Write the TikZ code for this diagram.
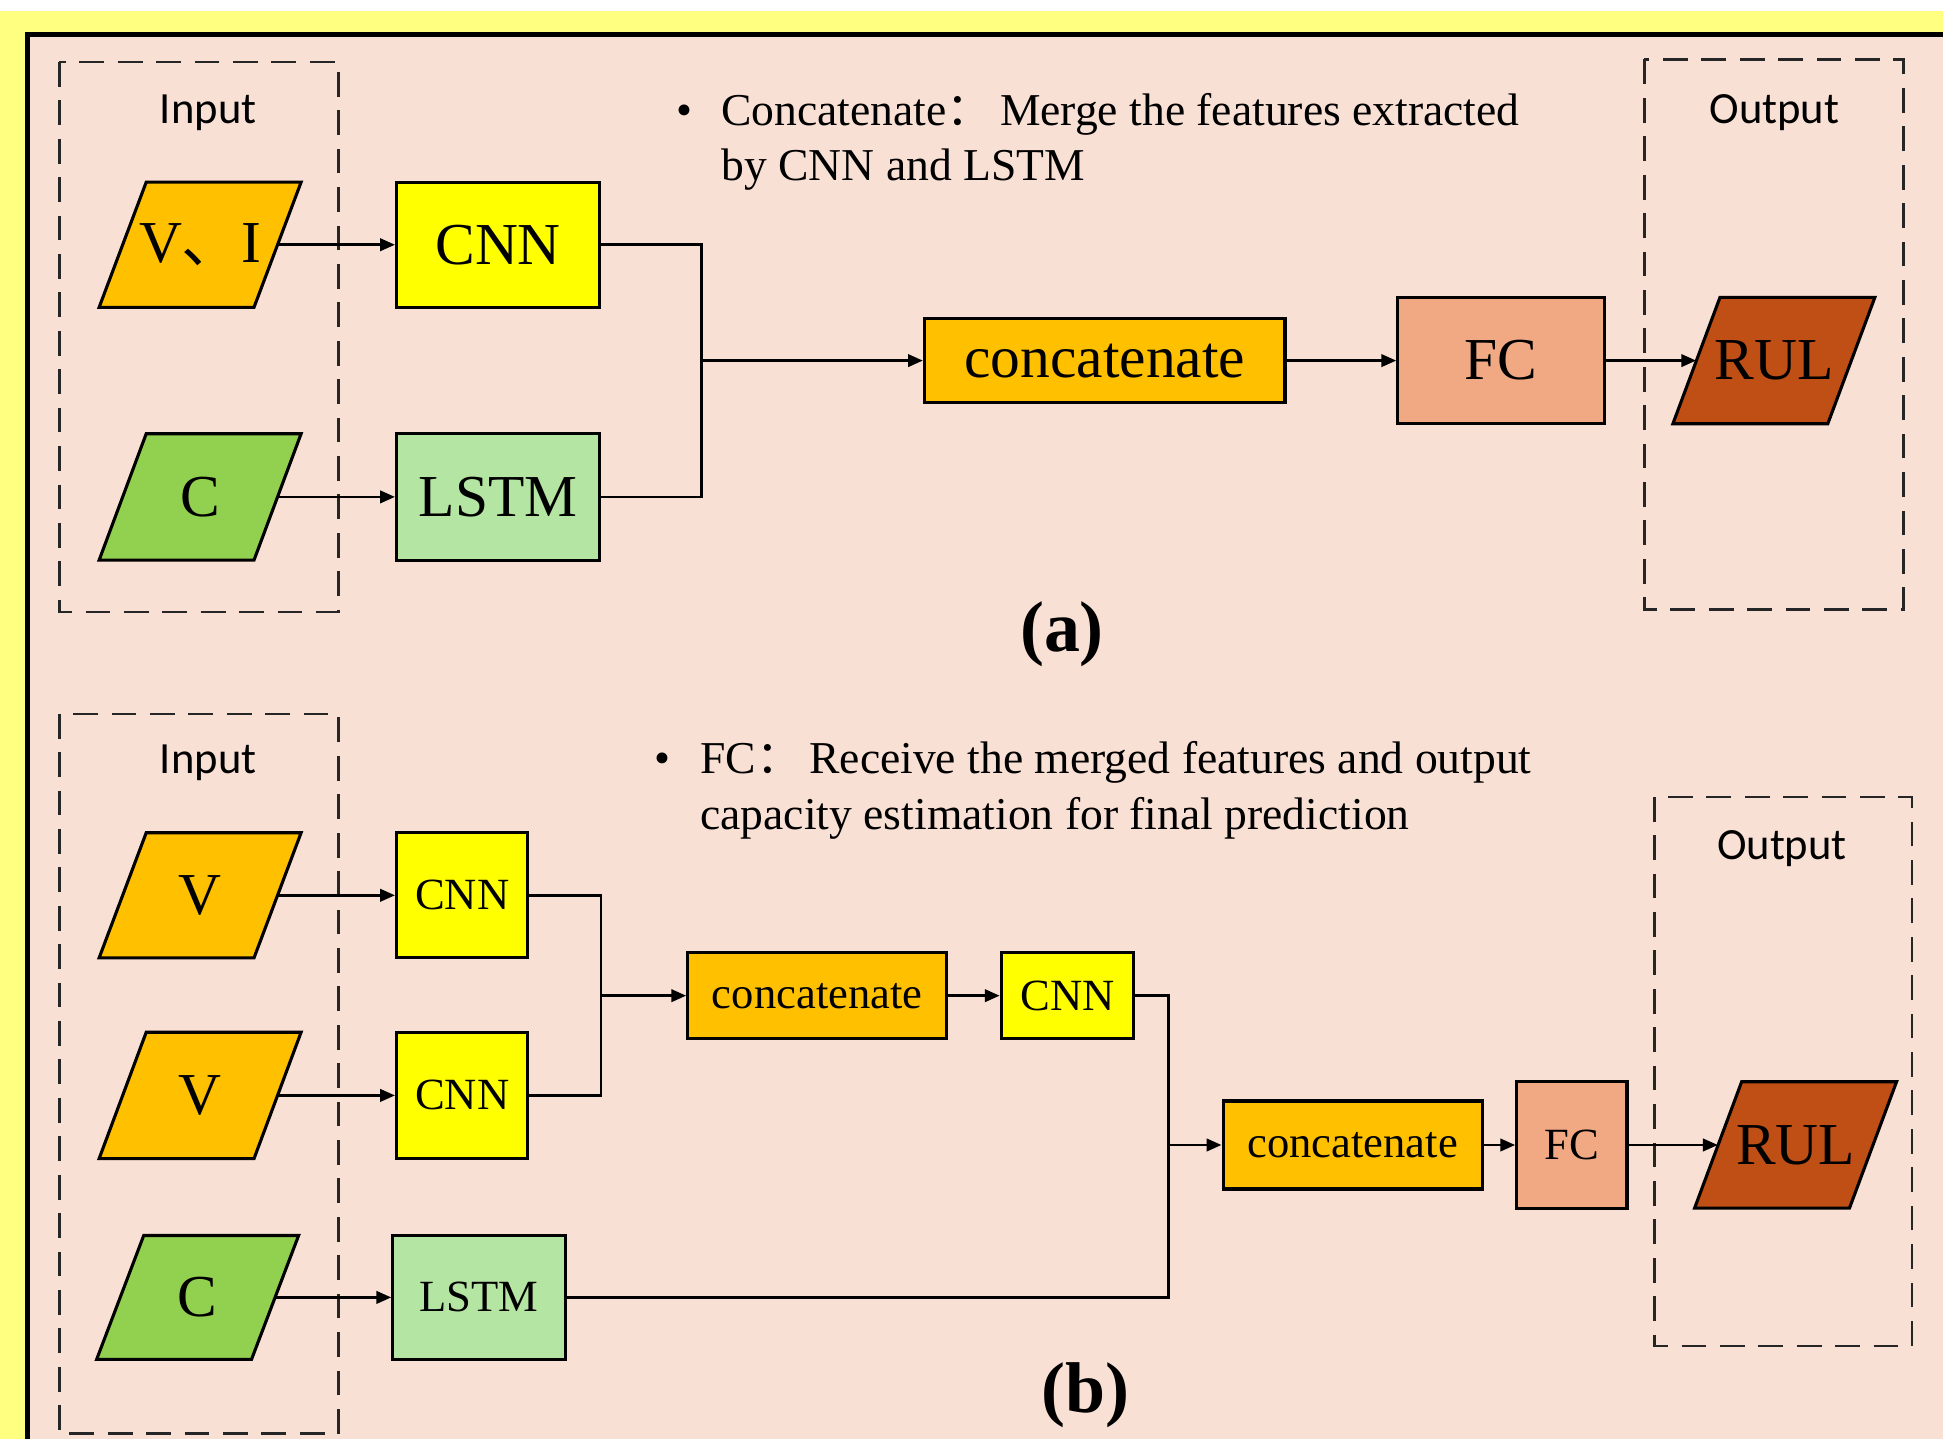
\documentclass[tikz,border=0pt]{standalone}
\usepackage{fontspec}
\setmainfont{Liberation Serif}
\newfontfamily\cjkfont{Noto Sans CJK SC}
\newfontfamily\labelfont{Carlito}
\usetikzlibrary{arrows.meta}

\definecolor{framebg}{HTML}{FFFF80}
\definecolor{panelbg}{HTML}{F9E0D5}
\definecolor{inorange}{HTML}{FFC000}
\definecolor{ingreen}{HTML}{92D050}
\definecolor{cnnyellow}{HTML}{FFFF00}
\definecolor{lstmgreen}{HTML}{B4E5A2}
\definecolor{fcsalmon}{HTML}{F0A983}
\definecolor{rulbrown}{HTML}{C04F15}

% font size helper: size and baseline skip in pt
\newcommand\fs[2]{\fontsize{#1pt}{#2pt}\selectfont}

% slanted input/output symbol: name, centre x, centre y, height, fill, label, font size
\newcommand\slantbox[7]{%
  \draw[parashape, fill=#5] (#2-81.5,#3+#4/2) -- (#2-43.5,#3-#4/2)
        -- (#2+81.5,#3-#4/2) -- (#2+43.5,#3+#4/2) -- cycle;
  \node[paralabel, minimum height=#4pt, font=\fs{#7}{#7}] (#1) at (#2,#3) {#6};}

\tikzset{
  block/.style={draw=black, line width=2.5pt, inner sep=0pt, font=\fs{48}{58}},
  smallblock/.style={block, font=\fs{36}{40}},
  parashape/.style={draw=black, line width=2.5pt, line join=miter},
  paralabel/.style={inner sep=0pt, minimum width=125pt},
  link/.style={line width=2.2pt, line join=miter},
  arrowlink/.style={link, -{Triangle[length=12pt,width=10pt]}},
  groupbox/.style={draw=black!85, line width=2pt, dash pattern=on 20pt off 11pt},
  grouplabel/.style={font=\labelfont\fs{36}{40}, inner sep=0pt, anchor=base},
  note/.style={font=\fs{36.8}{45}, inner sep=0pt, anchor=base west},
  caption/.style={font=\bfseries\fs{58}{60}, inner sep=0pt}
}

\begin{document}
\begin{tikzpicture}[x=1pt, y=-1pt]
\useasboundingbox (0,0) rectangle (1568,1161);

% page and panel background
\fill[white] (0,0) rectangle (1568,1161);
\fill[framebg] (0,9) rectangle (1568,1161);
\fill[panelbg] (22,28) rectangle (1568,1161);
\draw[line width=4pt] (22,1170) -- (22,28) -- (1575,28);

% ---------------- (a) ----------------
\draw[groupbox] (48,50) rectangle (273,494);
\draw[groupbox] (1327,48) rectangle (1536,492);
\node[grouplabel] (inlabA) at (168,100) {Input};
\node[grouplabel] (outlabA) at (1432,100) {Output};

\node[note, anchor=base] (bulletA) at (552,101) {\textbullet};
\node[note] (noteA1) at (582,101) {Concatenate{\cjkfont ：}\,Merge the features extracted};
\node[note] (noteA2) at (582,146) {by CNN and LSTM};

\slantbox{viA}{161.5}{197.5}{101}{inorange}{V{\cjkfont 、}I}{48}
\slantbox{cA}{161.5}{401}{102}{ingreen}{C}{48}

\node[block, fill=cnnyellow, minimum width=164pt, minimum height=101pt] (cnnA) at (402,197.5) {CNN};
\node[block, fill=lstmgreen, minimum width=164pt, minimum height=102pt] (lstmA) at (402,401) {LSTM};
\node[block, fill=inorange, minimum width=291pt, minimum height=68pt] (catA) at (891.5,291) {concatenate};
\node[block, fill=fcsalmon, minimum width=167pt, minimum height=102pt] (fcA) at (1211.5,291) {FC};
\slantbox{rulA}{1431.5}{291}{102}{rulbrown}{RUL}{48}

\coordinate (joinA) at (566,291);
\draw[arrowlink] (viA.east) -- (cnnA.west);
\draw[arrowlink] (cA.east) -- (lstmA.west);
\draw[link] (cnnA.east) -| (joinA);
\draw[link] (lstmA.east) -| (joinA);
\draw[arrowlink] (joinA) -- (catA.west);
\draw[arrowlink] (catA.east) -- (fcA.west);
\draw[arrowlink] (fcA.east) -- (rulA.west);

\node[caption] (capA) at (857,512) {(a)};

% ---------------- (b) ----------------
\draw[groupbox] (48,576) rectangle (273,1157);
\draw[groupbox] (1335,643) rectangle (1543,1086);
\node[grouplabel] (inlabB) at (168,624) {Input};
\node[grouplabel] (outlabB) at (1438,694) {Output};

\node[note, anchor=base] (bulletB) at (535,624) {\textbullet};
\node[note] (noteB1) at (565,624) {FC{\cjkfont ：}\,Receive the merged features and output};
\node[note] (noteB2) at (565,669) {capacity estimation for final prediction};

\slantbox{vB1}{161.5}{722.5}{101}{inorange}{V}{48}
\slantbox{vB2}{161.5}{884}{102}{inorange}{V}{48}
\slantbox{cB}{159.5}{1047}{100}{ingreen}{C}{48}

\node[smallblock, fill=cnnyellow, minimum width=106pt, minimum height=101pt] (cnnB1) at (373,722.5) {CNN};
\node[smallblock, fill=cnnyellow, minimum width=106pt, minimum height=102pt] (cnnB2) at (373,884) {CNN};
\node[smallblock, fill=lstmgreen, minimum width=139pt, minimum height=100pt] (lstmB) at (386.5,1047) {LSTM};
\node[smallblock, fill=inorange, minimum width=209pt, minimum height=69pt] (catB1) at (659.5,803.5) {concatenate};
\node[smallblock, fill=cnnyellow, minimum width=107pt, minimum height=69pt] (cnnB3) at (861.5,803.5) {CNN};
\node[smallblock, fill=inorange, minimum width=209pt, minimum height=71pt] (catB2) at (1091.5,924) {concatenate};
\node[smallblock, fill=fcsalmon, minimum width=89pt, minimum height=103pt] (fcB) at (1268.5,924) {FC};
\slantbox{rulB}{1449}{924}{102}{rulbrown}{RUL}{48}

\coordinate (joinB) at (485,803.5);
\coordinate (joinC) at (943,924);
\draw[arrowlink] (vB1.east) -- (cnnB1.west);
\draw[arrowlink] (vB2.east) -- (cnnB2.west);
\draw[arrowlink] (cB.east) -- (lstmB.west);
\draw[link] (cnnB1.east) -| (joinB);
\draw[link] (cnnB2.east) -| (joinB);
\draw[arrowlink] (joinB) -- (catB1.west);
\draw[arrowlink] (catB1.east) -- (cnnB3.west);
\draw[link] (cnnB3.east) -| (joinC);
\draw[link] (lstmB.east) -| (joinC);
\draw[arrowlink] (joinC) -- (catB2.west);
\draw[arrowlink] (catB2.east) -- (fcB.west);
\draw[arrowlink] (fcB.east) -- (rulB.west);

\node[caption] (capB) at (876,1126) {(b)};
\end{tikzpicture}
\end{document}
